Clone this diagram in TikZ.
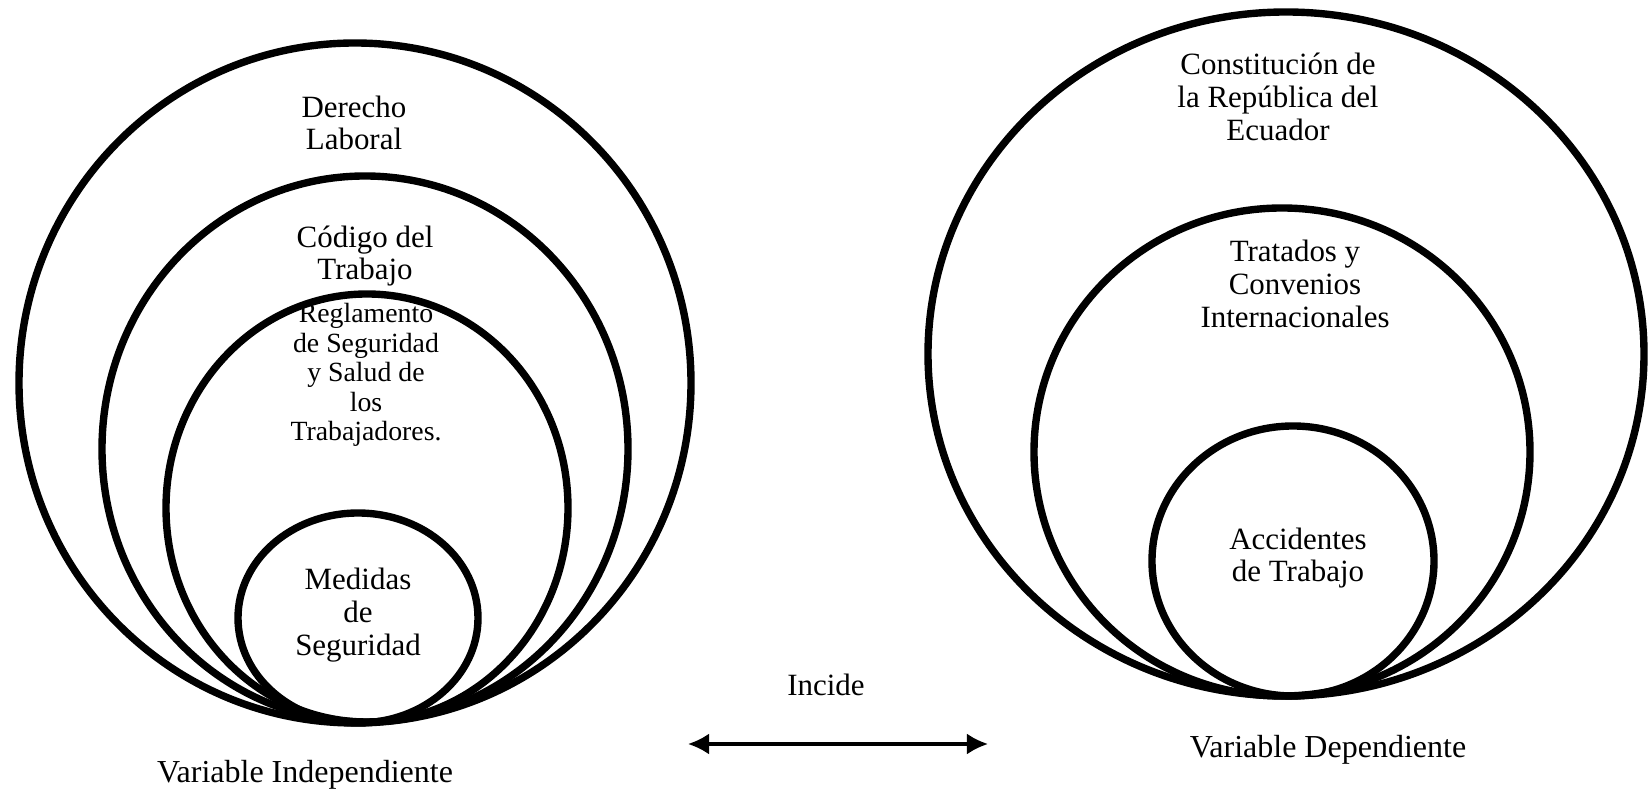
\documentclass[tikz,border=0pt]{standalone}
\usepackage{fontspec}
\setmainfont{Liberation Serif}
\usepackage{tikz}
\usetikzlibrary{arrows.meta, positioning, calc}
\tikzstyle{arr}      = [{Latex[length=6pt,width=6pt]}-{Latex[length=6pt,width=6pt]}, line width=0.9pt]

\begin{document}
\begin{tikzpicture}[
  x=0.01cm, y=0.01cm,
  ring/.style={line width=2.1pt, draw=black},
  lbl/.style={align=center, inner sep=0pt, font=\fontsize{8.8}{9.3}\selectfont},
  small/.style={lbl, font=\fontsize{7.9}{8.4}\selectfont},
  var/.style={lbl, font=\fontsize{9.1}{9.6}\selectfont}
]
  \useasboundingbox (0,0) rectangle (1648,794);

  % variable independiente
  \draw[ring] (355,411) ellipse [x radius=336, y radius=340];
  \draw[ring] (365,345) ellipse [x radius=263, y radius=273];
  \draw[ring] (367,286) ellipse [x radius=201, y radius=214];
  \draw[ring] (358,176) ellipse [x radius=120, y radius=105];

  \node[lbl]   (der)  at (354,671) {Derecho\\Laboral};
  \node[lbl]   (cod)  at (365,538) {Código del\\Trabajo};
  \node[small] (reg)  at (366,419) {Reglamento\\de Seguridad\\y Salud de\\los\\Trabajadores.};
  \node[lbl]   (med)  at (358,179) {Medidas\\de\\Seguridad};
  \node[var]   (vind) at (305,19)  {Variable Independiente};

  % variable dependiente
  \draw[ring] (1286,440) ellipse [x radius=358, y radius=342];
  \draw[ring] (1282,342) ellipse [x radius=248, y radius=244];
  \draw[ring] (1293,233) ellipse [x radius=141, y radius=135];

  \node[lbl] (con)  at (1278,697) {Constitución de\\la República del\\Ecuador};
  \node[lbl] (tra)  at (1295,510) {Tratados y\\Convenios\\Internacionales};
  \node[lbl] (acc)  at (1298,236) {Accidentes\\de Trabajo};
  \node[var] (vdep) at (1328,44)  {Variable Dependiente};

  % incide
  \node[lbl] (inc) at (826,109) {Incide};
  \coordinate (izq) at (688,50);
  \coordinate (dch) at (988,50);
  \draw[arr] (izq) -- (dch);
\end{tikzpicture}
\end{document}
